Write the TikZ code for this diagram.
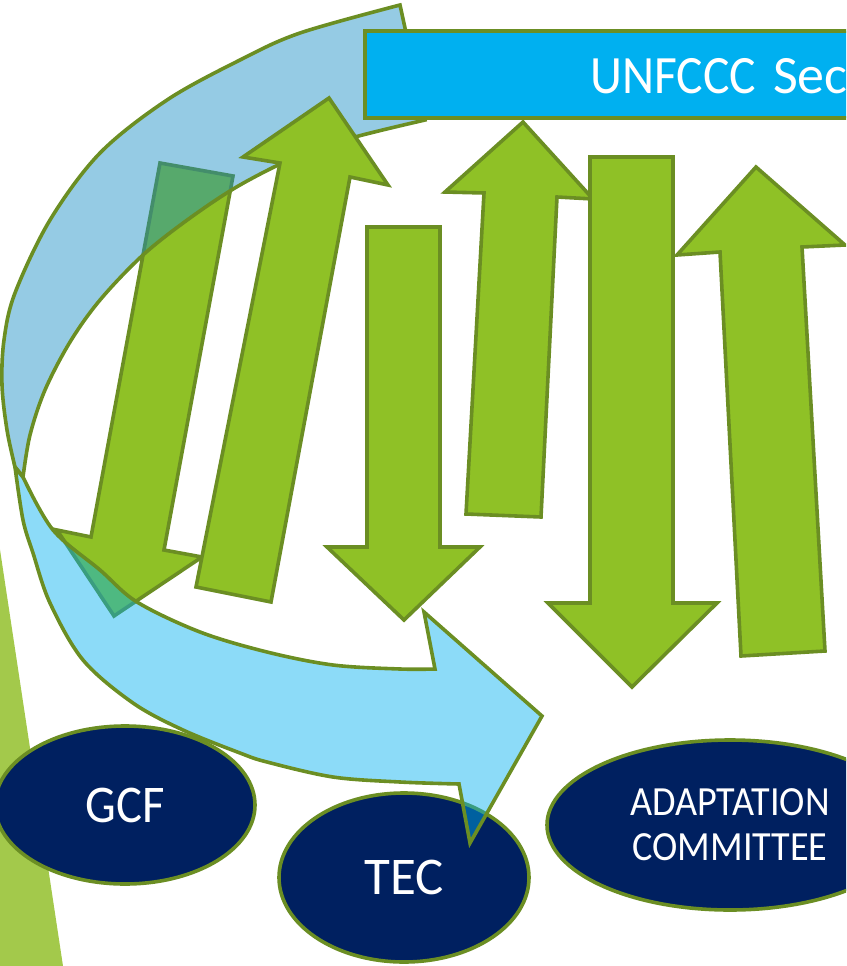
\documentclass[tikz,border=0pt]{standalone}
\usepackage{fontspec}
\setmainfont{Carlito}
\newfontfamily\narrowfont[FakeStretch=0.92]{Carlito}
\usetikzlibrary{shapes.geometric}
\definecolor{olivebd}{RGB}{107,142,35}
\definecolor{arrowgreen}{RGB}{143,193,38}
\definecolor{stripegreen}{RGB}{163,201,75}
\definecolor{backblue}{RGB}{20,140,195}
\definecolor{frontblue}{RGB}{0,176,240}
\definecolor{orgnavy}{RGB}{0,32,96}
\definecolor{boxblue}{RGB}{0,176,240}
\begin{document}
\begin{tikzpicture}[x=1pt,y=-1pt,
  garrow/.style={draw=olivebd, fill=arrowgreen, line width=3.6pt, line join=miter},
  band/.style={draw=olivebd, line width=3.6pt, line join=miter, fill opacity=0.45},
  body/.style={ellipse, draw=olivebd, fill=orgnavy, line width=3.6pt, inner sep=0pt, text=white}
]
\useasboundingbox (0,0) rectangle (846,966);
\clip (0,0) rectangle (846,966);

% light green stripe at the left edge
\fill[stripegreen] (-6,510) -- (63,966) -- (-6,966) -- cycle;

% ellipses
\node[body, minimum width=260pt, minimum height=158pt, font=\narrowfont\fontsize{53}{60}\selectfont] (gcf) at (125,805) {GCF};
\node[body, minimum width=250pt, minimum height=169pt, font=\fontsize{53}{60}\selectfont] (tec) at (404,877.5) {TEC};
\node[body, minimum width=366pt, minimum height=170pt, align=center, font=\narrowfont\fontsize{41.5}{45}\selectfont] (adapt) at (730,825) {ADAPTATION\\COMMITTEE};

% green arrow 1 (down, leftmost)
\draw[garrow] (160,163) -- (233,176) -- (164,550) -- (202,557) -- (114,616) -- (57,530) -- (91,537) -- cycle;

% curved band: back part (upper)
\path[band, fill=backblue]
  (15,467) -- plot[smooth, tension=0.55] coordinates {(15,467) (7,430) (2,385) (4,340) (15,293) (50,220) (100,153) (167,100) (240,60) (300,33) (400,5)}
  -- (425,120)
  -- plot[smooth, tension=0.55] coordinates {(425,120) (355,137) (300,155) (240,185) (190,218) (143,255) (100,300) (70,342) (45,390) (30,435) (23,477)}
  -- cycle;

% curved band: front part (lower) with head
\path[band, fill=frontblue]
  (15,467) -- plot[smooth, tension=0.55] coordinates {(15,467) (23,520) (33,553) (50,603) (83,660) (133,703) (183,730) (240,753) (267,762) (333,777) (400,782) (459,784)}
  -- (470,843) -- (542,716) -- (424,612) -- (435,669)
  -- plot[smooth, tension=0.55] coordinates {(435,669) (400,669) (333,665) (267,652) (200,632) (137,602) (100,570) (53,530) (23,477)}
  -- cycle;

% green arrows 2-6
\draw[garrow] (196,587) -- (271,602) -- (350,177) -- (388,185) -- (329,98) -- (243,157) -- (280,163) -- cycle;
\draw[garrow] (367,227) -- (440,227) -- (440,547) -- (480,547) -- (404,620) -- (327,547) -- (367,547) -- cycle;
\draw[garrow] (466,514) -- (541,517) -- (557,197) -- (593,199) -- (523,122) -- (445,192) -- (484,193) -- cycle;
\draw[garrow] (590,157) -- (673,157) -- (673,603) -- (717,603) -- (632,687) -- (548,603) -- (590,603) -- cycle;
\draw[garrow] (741,656) -- (825,651) -- (802,247) -- (845,245) -- (756,167) -- (677,255) -- (720,252) -- cycle;

% UNFCCC box
\draw[draw=olivebd, fill=boxblue, line width=3.6pt] (365,31) rectangle (880,118);
\node[anchor=base west, text=white, inner sep=0pt, font=\fontsize{54}{60}\selectfont] (unfccc) at (590,93) {\narrowfont UNFCCC\hspace{17pt}\rmfamily Sec};
\end{tikzpicture}
\end{document}
